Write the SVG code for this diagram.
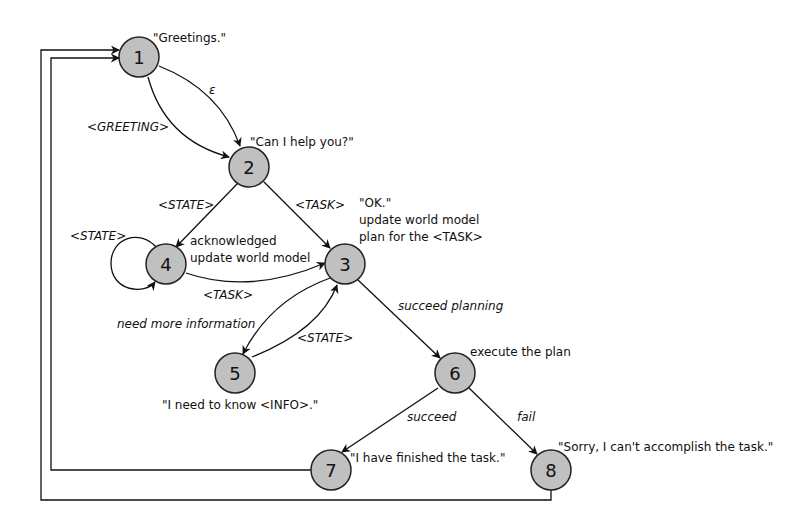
<svg xmlns="http://www.w3.org/2000/svg" width="810" height="524" viewBox="0 0 810 524">
<style>
.n circle{fill:#c0c0c0;stroke:#222;stroke-width:1.5}
.n text{font-family:"DejaVu Sans",sans-serif;font-size:18px;text-anchor:middle;fill:#111}
.t{font-family:"DejaVu Sans",sans-serif;font-size:12px;fill:#111}
.i{font-style:italic}
#edges path{fill:none;stroke:#111;stroke-width:1.3;marker-end:url(#a)}
</style>
<defs><marker id="a" viewBox="0 0 10 10" refX="9" refY="5" markerWidth="9" markerHeight="9" orient="auto" markerUnits="userSpaceOnUse"><path d="M0,0 L10,5 L0,10 L3,5 z" fill="#111"/></marker></defs>
<rect width="810" height="524" fill="#fff"/>
<g id="edges">
<path d="M159,66 Q220,90 240,146"/>
<path d="M148,77 Q165,140 229,157"/>
<path d="M238,183 L176,247"/>
<path d="M264,182 L330,248"/>
<path d="M157,248 C140,228 111,238 111,263 C111,292 145,295 155,282"/>
<path d="M186,273 Q250,295 325,263"/>
<path d="M330,278 Q270,300 243,354"/>
<path d="M252,357 Q320,330 337,285"/>
<path d="M358,280 L440,358"/>
<path d="M438,388 L342,452"/>
<path d="M469,388 L537,454"/>
<path d="M311,470 H51 V58 H119"/>
<path d="M551,490 V500 H41 V50 H119"/>
</g>
<g id="n1" class="n"><circle cx="139" cy="57" r="20"/><text x="139" y="64">1</text></g>
<g id="n2" class="n"><circle cx="249" cy="167" r="20"/><text x="249" y="174">2</text></g>
<g id="n3" class="n"><circle cx="345" cy="264" r="20"/><text x="345" y="271">3</text></g>
<g id="n4" class="n"><circle cx="166" cy="264" r="20"/><text x="166" y="271">4</text></g>
<g id="n5" class="n"><circle cx="235" cy="373" r="20"/><text x="235" y="380">5</text></g>
<g id="n6" class="n"><circle cx="455" cy="373" r="20"/><text x="455" y="380">6</text></g>
<g id="n7" class="n"><circle cx="331" cy="470" r="20"/><text x="331" y="477">7</text></g>
<g id="n8" class="n"><circle cx="551" cy="470" r="20"/><text x="551" y="477">8</text></g>
<g id="labels" class="t">
<text x="153" y="42">"Greetings."</text>
<text x="209" y="94" class="i">ε</text>
<text x="87" y="131" class="i">&lt;GREETING&gt;</text>
<text x="250" y="146">"Can I help you?"</text>
<text x="158" y="209" class="i">&lt;STATE&gt;</text>
<text x="295" y="209" class="i">&lt;TASK&gt;</text>
<text x="359" y="207">"OK."</text>
<text x="359" y="224">update world model</text>
<text x="359" y="241">plan for the &lt;TASK&gt;</text>
<text x="70" y="240" class="i">&lt;STATE&gt;</text>
<text x="190" y="245">acknowledged</text>
<text x="190" y="262">update world model</text>
<text x="203" y="299" class="i">&lt;TASK&gt;</text>
<text x="117" y="328" class="i">need more information</text>
<text x="297" y="342" class="i">&lt;STATE&gt;</text>
<text x="398" y="310" class="i">succeed planning</text>
<text x="470" y="356">execute the plan</text>
<text x="162" y="409">"I need to know &lt;INFO&gt;."</text>
<text x="407" y="421" class="i">succeed</text>
<text x="517" y="421" class="i">fail</text>
<text x="350" y="462">"I have finished the task."</text>
<text x="558" y="451">"Sorry, I can't accomplish the task."</text>
</g>
</svg>
